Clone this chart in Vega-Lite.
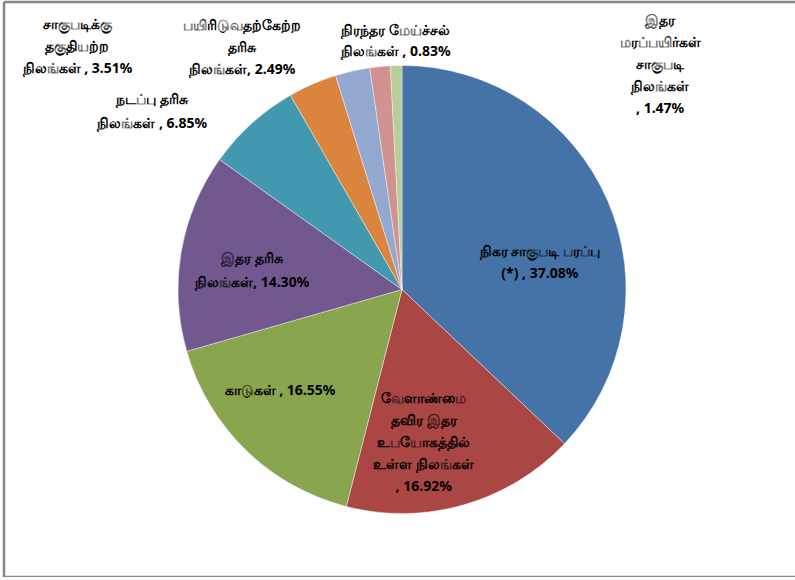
{
  "$schema": "https://vega.github.io/schema/vega-lite/v6.json",
  "autosize": "none",
  "width": 796,
  "height": 575,
  "padding": {"left": 4, "top": 2, "right": 0, "bottom": 0},
  "background": "white",
  "config": {"view": {"stroke": null}},
  "layer": [
    {"data": {"values": [{}]}, "mark": {"type": "rule", "color": "#878787", "strokeWidth": 2.5}, "encoding": {"x": {"value": 0}}},
    {"data": {"values": [{}]}, "mark": {"type": "rule", "color": "#878787", "strokeWidth": 2.5}, "encoding": {"y": {"value": 0}}},
    {"data": {"values": [{}]}, "mark": {"type": "rule", "color": "#878787", "strokeWidth": 2.5}, "encoding": {"y": {"value": "height"}}},
    {
      "data": {"values": [
        {"cat": "நிகர சாகுபடி பரப்பு (*)", "value": 37.08, "label": "நிகர சாகுபடி பரப்பு\n(*) , 37.08%"},
        {"cat": "வேளாண்மை தவிர இதர உபயோகத்தில் உள்ள நிலங்கள்", "value": 16.92, "label": "வேளாண்மை\nதவிர இதர\nஉபயோகத்தில்\nஉள்ள நிலங்கள்\n, 16.92%"},
        {"cat": "காடுகள்", "value": 16.55, "label": "காடுகள் , 16.55%"},
        {"cat": "இதர தரிசு நிலங்கள்", "value": 14.30, "label": "இதர தரிசு\nநிலங்கள், 14.30%"},
        {"cat": "நடப்பு தரிசு நிலங்கள்", "value": 6.85, "label": "நடப்பு தரிசு\nநிலங்கள் , 6.85%"},
        {"cat": "சாகுபடிக்கு தகுதியற்ற நிலங்கள்", "value": 3.51, "label": "சாகுபடிக்கு\nதகுதியற்ற\nநிலங்கள் , 3.51%"},
        {"cat": "பயிரிடுவதற்கேற்ற தரிசு நிலங்கள்", "value": 2.49, "label": "பயிரிடுவதற்கேற்ற\nதரிசு\nநிலங்கள், 2.49%"},
        {"cat": "இதர மரப்பயிர்கள் சாகுபடி நிலங்கள்", "value": 1.47, "label": "இதர\nமரப்பயிர்கள்\nசாகுபடி\nநிலங்கள்\n, 1.47%"},
        {"cat": "நிரந்தர மேய்ச்சல் நிலங்கள்", "value": 0.83, "label": "நிரந்தர மேய்ச்சல்\nநிலங்கள் , 0.83%"}
      ]},
      "transform": [{"window": [{"op": "row_number", "as": "i"}]}],
      "encoding": {
        "theta": {"field": "value", "type": "quantitative", "stack": true},
        "order": {"field": "i", "type": "quantitative"},
        "detail": {"field": "cat", "type": "nominal"}
      },
      "layer": [
        {
          "mark": {"type": "arc", "outerRadius": 224, "stroke": "white", "strokeWidth": 0.4},
          "encoding": {
            "color": {
              "field": "cat", "type": "nominal", "legend": null,
              "scale": {
                "domain": ["நிகர சாகுபடி பரப்பு (*)", "வேளாண்மை தவிர இதர உபயோகத்தில் உள்ள நிலங்கள்", "காடுகள்", "இதர தரிசு நிலங்கள்", "நடப்பு தரிசு நிலங்கள்", "சாகுபடிக்கு தகுதியற்ற நிலங்கள்", "பயிரிடுவதற்கேற்ற தரிசு நிலங்கள்", "இதர மரப்பயிர்கள் சாகுபடி நிலங்கள்", "நிரந்தர மேய்ச்சல் நிலங்கள்"],
                "range": ["#4572A7", "#AA4643", "#89A54E", "#71588F", "#4198AF", "#DB843D", "#93A9CF", "#D19392", "#B9CD96"]
              }
            }
          }
        },
        {
          "mark": {"type": "text", "radius": 150, "dy": 22, "fontSize": 14, "fontWeight": "bold", "lineBreak": "\n", "lineHeight": 22, "font": "Noto Sans", "color": "black"},
          "encoding": {"text": {"condition": {"test": "datum.value === 37.08", "field": "label"}, "value": ""}}
        },
        {
          "mark": {"type": "text", "radius": 158, "dx": -22, "dy": -42, "fontSize": 14, "fontWeight": "bold", "lineBreak": "\n", "lineHeight": 22, "font": "Noto Sans", "color": "black"},
          "encoding": {"text": {"condition": {"test": "datum.value === 16.92", "field": "label"}, "value": ""}}
        },
        {
          "mark": {"type": "text", "radius": 155, "dx": -14, "dy": -10, "fontSize": 14, "fontWeight": "bold", "lineBreak": "\n", "lineHeight": 22, "font": "Noto Sans", "color": "black"},
          "encoding": {"text": {"condition": {"test": "datum.value === 16.55", "field": "label"}, "value": ""}}
        },
        {
          "mark": {"type": "text", "radius": 150, "dx": -2, "dy": -5, "fontSize": 14, "fontWeight": "bold", "lineBreak": "\n", "lineHeight": 24, "font": "Noto Sans", "color": "black"},
          "encoding": {"text": {"condition": {"test": "datum.value === 14.3", "field": "label"}, "value": ""}}
        },
        {
          "mark": {"type": "text", "radius": 290, "dx": -55, "dy": 25, "fontSize": 14, "fontWeight": "bold", "lineBreak": "\n", "lineHeight": 24, "font": "Noto Sans", "color": "black"},
          "encoding": {"text": {"condition": {"test": "datum.value === 6.85", "field": "label"}, "value": ""}}
        },
        {
          "mark": {"type": "text", "radius": 264, "dx": -219, "dy": -23, "fontSize": 14, "fontWeight": "bold", "lineBreak": "\n", "lineHeight": 22, "font": "Noto Sans", "color": "black"},
          "encoding": {"text": {"condition": {"test": "datum.value === 3.51", "field": "label"}, "value": ""}}
        },
        {
          "mark": {"type": "text", "radius": 248, "dx": -105, "dy": -22, "fontSize": 14, "fontWeight": "bold", "lineBreak": "\n", "lineHeight": 22, "font": "Noto Sans", "color": "black"},
          "encoding": {"text": {"condition": {"test": "datum.value === 2.49", "field": "label"}, "value": ""}}
        },
        {
          "mark": {"type": "text", "radius": 223, "dx": 280, "dy": -47, "fontSize": 14, "fontWeight": "bold", "lineBreak": "\n", "lineHeight": 22, "font": "Noto Sans", "color": "black"},
          "encoding": {"text": {"condition": {"test": "datum.value === 1.47", "field": "label"}, "value": ""}}
        },
        {
          "mark": {"type": "text", "radius": 246, "dx": 0, "dy": -13, "fontSize": 14, "fontWeight": "bold", "lineBreak": "\n", "lineHeight": 21, "font": "Noto Sans", "color": "black"},
          "encoding": {"text": {"condition": {"test": "datum.value === 0.83", "field": "label"}, "value": ""}}
        }
      ]
    }
  ]
}
